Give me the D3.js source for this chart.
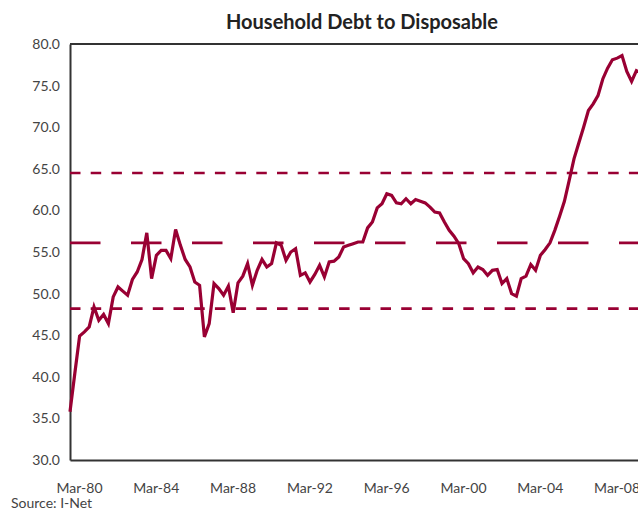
<!DOCTYPE html>
<html>
<head>
<meta charset="utf-8">
<script src="https://cdn.jsdelivr.net/npm/d3@7"></script>
<style>
  body { margin: 0; background: #fff; }
  svg { display: block; font-family: Lato, "Open Sans", sans-serif; }
</style>
</head>
<body>
<div class="content"></div>
<script>
const WIDTH = 638
const HEIGHT = 509

// quarterly ratio, first quarter is Mar-80
const startLabel = "Mar-80"
const debtRatio = [
  35.8, 40.4, 44.9, 45.4, 46.0, 48.4, 46.8, 47.5, 46.4, 49.6,
  50.8, 50.3, 49.8, 51.7, 52.6, 54.1, 57.3, 51.8, 54.6, 55.2,
  55.2, 54.2, 57.7, 55.8, 54.1, 53.2, 51.4, 51.0, 44.8, 46.4,
  51.2, 50.6, 49.8, 50.9, 47.7, 51.3, 52.1, 53.6, 51.0, 52.8,
  54.1, 53.2, 53.6, 56.1, 55.8, 54.0, 55.0, 55.4, 52.2, 52.5,
  51.4, 52.3, 53.4, 52.0, 53.8, 53.9, 54.4, 55.6, 55.8, 56.0,
  56.2, 56.2, 57.9, 58.6, 60.3, 60.8, 62.0, 61.8, 60.9, 60.8,
  61.4, 60.8, 61.3, 61.1, 60.9, 60.4, 59.8, 59.7, 58.6, 57.6,
  56.9, 56.0, 54.2, 53.6, 52.5, 53.2, 52.9, 52.2, 52.8, 52.9,
  51.2, 51.8, 50.0, 49.7, 51.8, 52.1, 53.5, 52.8, 54.6, 55.3,
  56.1, 57.6, 59.3, 61.1, 63.6, 66.2, 68.1, 70.0, 72.0, 72.8,
  73.8, 75.8, 77.1, 78.1, 78.3, 78.6, 76.7, 75.5, 76.8, 76.5
]

// average and +/- one standard deviation bands
const bandUpper = 64.5
const bandMean = 56.1
const bandLower = 48.2

const xTickIndex = [0, 16, 32, 48, 64, 80, 96, 112]
const xTickLabels = ["Mar-80", "Mar-84", "Mar-88", "Mar-92", "Mar-96", "Mar-00", "Mar-04", "Mar-08"]
const yTicks = [30, 35, 40, 45, 50, 55, 60, 65, 70, 75, 80]

const LINE_COLOR = "#990033"
const FRAME_COLOR = "#333333"

let svg = d3.select(".content").append("svg").attr("width", WIDTH).attr("height", HEIGHT)

let xscale = d3.scaleLinear()
                .domain([0, 120])
                .range([70, 646])
let yscale = d3.scaleLinear()
                .domain([30, 80])
                .range([460, 44])

//title
svg.append("text")
    .attr("x", 362)
    .attr("y", 29)
    .attr("text-anchor", "middle")
    .style("font-weight", "bold")
    .style("font-size", "20px")
    .style("fill", "#222")
    .text("Household Debt to Disposable")

//y axis
let yaxis = d3.axisLeft(yscale)
                .tickValues(yTicks)
                .tickFormat(d3.format(".1f"))
                .tickSize(0)
                .tickSizeOuter(0)
                .tickPadding(10)
let yg = svg.append("g").attr("transform", "translate(70,0)").call(yaxis)
yg.select(".domain").attr("stroke", FRAME_COLOR).attr("stroke-width", 2)
yg.selectAll("text").style("font-size", "14px").style("fill", "#444").style("font-family", "Lato, sans-serif")

//x axis
let xaxis = d3.axisBottom(xscale)
                .tickValues(xTickIndex)
                .tickFormat((d, i) => xTickLabels[i])
                .tickSize(0)
                .tickSizeOuter(0)
                .tickPadding(23)
let xg = svg.append("g").attr("transform", "translate(0,460)").call(xaxis)
xg.select(".domain").attr("stroke", FRAME_COLOR).attr("stroke-width", 2)
xg.selectAll("text").attr("dx", 9).style("font-size", "14px").style("fill", "#444").style("font-family", "Lato, sans-serif")

//top border
svg.append("line")
    .attr("x1", xscale(0)).attr("x2", xscale(120))
    .attr("y1", yscale(80)).attr("y2", yscale(80))
    .attr("stroke", FRAME_COLOR)
    .attr("stroke-width", 2)

//reference bands
let bands = [
  {value: bandUpper, dash: "10.5,10.2"},
  {value: bandMean, dash: "30.5,30.5"},
  {value: bandLower, dash: "10.5,10.2"}
]
svg.append("g").selectAll("line")
    .data(bands)
    .join("line")
    .attr("x1", xscale(0)).attr("x2", xscale(120))
    .attr("y1", d => yscale(d.value)).attr("y2", d => yscale(d.value))
    .attr("stroke", LINE_COLOR)
    .attr("stroke-width", 2.6)
    .attr("stroke-dasharray", d => d.dash)

//ratio line
let line = d3.line()
            .x((d, i) => xscale(i))
            .y(d => yscale(d))
svg.append("path")
    .datum(debtRatio)
    .attr("d", line)
    .attr("fill", "none")
    .attr("stroke", LINE_COLOR)
    .attr("stroke-width", 3.2)
    .attr("stroke-linejoin", "miter")

//source
svg.append("text")
    .attr("x", 11)
    .attr("y", 508)
    .style("font-size", "14px")
    .style("fill", "#444")
    .text("Source: I-Net")
</script>
</body>
</html>
